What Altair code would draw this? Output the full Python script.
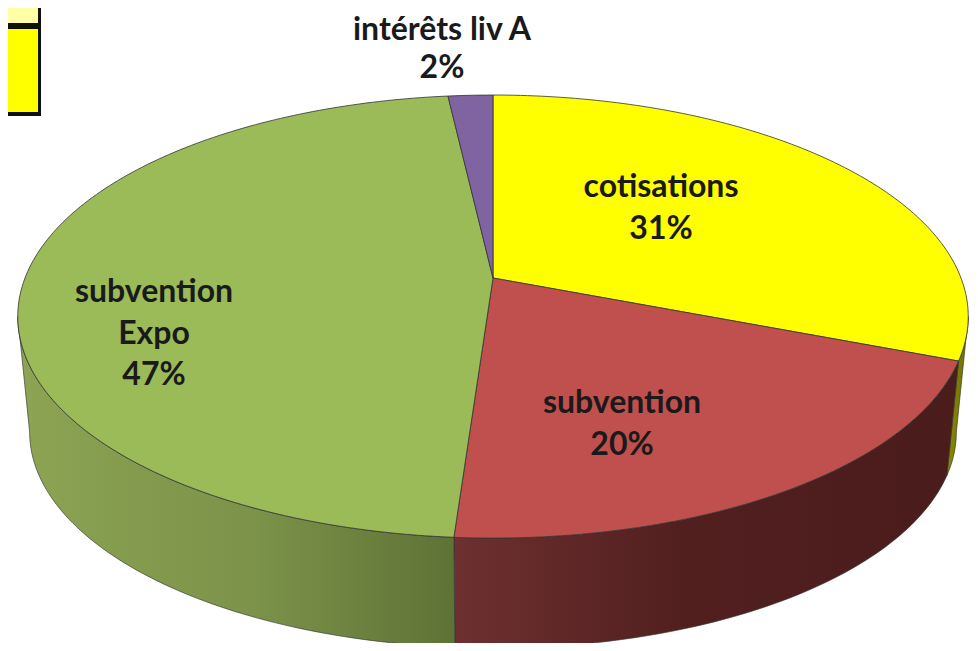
import math
import altair as alt

# Pie data (share in percent, clockwise from 12 o'clock)
names = ["cotisations", "subvention", "subvention Expo", "intérêts liv A"]
shares = [30.9, 20.2, 47.1, 1.8]
top_colors = ["#ffff00", "#c0504d", "#9bbb59", "#8064a2"]

# Labels
label_lines = [["cotisations", "31%"], ["subvention", "20%"], ["subvention", "Expo", "47%"], ["intérêts liv A", "2%"]]
label_x = [661, 622, 154, 442]
label_y = [187, 403, 292, 30]
label_step = [41.5, 41.5, 41.5, 37.5]

# Projection of the tilted disc to the picture
CX, CY, BX, AY, K = 493.0, 278.0, 468.0, 214.8, 0.174
DEPTH_Y, DEPTH_SCALE = 116.5, 0.975
proj = dict(type="identity", scale=1, translate=[-8, -8])


def point(deg, lower=False):
    t = math.radians(deg)
    u, v = math.sin(t), math.cos(t)
    s = DEPTH_SCALE if lower else 1.0
    oy = DEPTH_Y if lower else 0.0
    return [CX + s * BX * u / (1 + K * v), CY + oy - s * AY * v / (1 + K * v)]


def arc(a, b, lower=False):
    n = max(2, int(abs(b - a)) + 1)
    return [point(a + (b - a) * i / n, lower) for i in range(n + 1)]


def shape(ring, fill, stroke=None, width=1.0, opacity=1.0):
    ring = ring + [ring[0]]
    feat = {"type": "Feature", "properties": {}, "geometry": {"type": "Polygon", "coordinates": [ring]}}
    kw = dict(fill=fill, opacity=opacity)
    if stroke:
        kw.update(stroke=stroke, strokeWidth=width, strokeOpacity=0.8)
    else:
        kw.update(strokeWidth=0)
    return alt.Chart(alt.Data(values=[feat])).mark_geoshape(**kw).project(**proj)


def rect(x0, y0, x1, y1, fill, opacity=1.0):
    return shape([[x0, y0], [x1, y0], [x1, y1], [x0, y1]], fill, opacity=opacity)


def grad(stops):
    return alt.LinearGradient(
        gradient="linear", x1=0, x2=1, y1=0, y2=0,
        stops=[alt.GradientStop(offset=o, color=c) for o, c in stops],
    )


edges = [0.0]
for s in shares:
    edges.append(edges[-1] + s * 3.6)

layers = []

# Side walls
wall_fills = [
    grad([(0, "#8a8a00"), (1, "#6f6f00")]),
    grad([(0, "#6e3030"), (0.45, "#521f1f"), (1, "#4a1c1c")]),
    grad([(0, "#8ca453"), (0.55, "#7b9249"), (1, "#5e7236")]),
]
wall_spans = [(100.0, edges[1]), (edges[1], edges[2]), (edges[2], 260.0)]
for (a, b), f in zip(wall_spans, wall_fills):
    layers.append(shape(arc(a, b) + arc(b, a, True), f, "#333333", 0.8))

# Top face
for i, c in enumerate(top_colors):
    layers.append(shape([[CX, CY]] + arc(edges[i], edges[i + 1]), c, "#333333", 1.0))

# Yellow boxes in the top-left corner
layers.append(rect(8, 8, 41, 116, "#111111"))
layers.append(rect(8, 8, 38, 23, "#ffffa6"))
layers.append(rect(8, 29, 38, 112, "#ffff00"))

# Text
rows = []
for lines, x, y, step in zip(label_lines, label_x, label_y, label_step):
    for j, line in enumerate(lines):
        rows.append({"t": line, "lon": x, "lat": y + j * step})
text = (
    alt.Chart(alt.Data(values=rows))
    .mark_text(font="Lato", fontSize=32, fontWeight="bold", color="#1a1a1a", align="center", baseline="middle")
    .encode(longitude="lon:Q", latitude="lat:Q", text="t:N")
    .project(**proj)
)
layers.append(text)

chart = (
    alt.layer(*layers)
    .properties(width=962, height=635, padding=0, autosize=alt.AutoSizeParams(type="none"), background="white")
    .configure_view(stroke=None)
)
chart.save("out.html", embed_options={"renderer": "svg", "actions": False})
